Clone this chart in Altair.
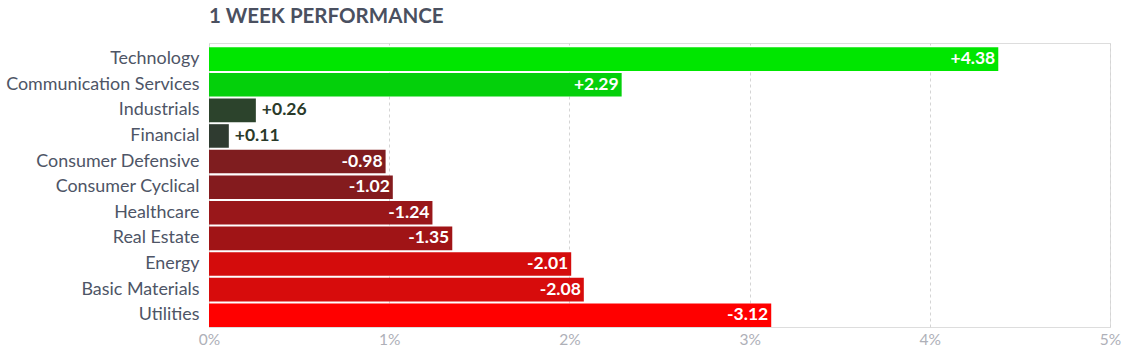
import altair as alt
import pandas as pd

sectors = ["Technology", "Communication Services", "Industrials", "Financial",
           "Consumer Defensive", "Consumer Cyclical", "Healthcare", "Real Estate",
           "Energy", "Basic Materials", "Utilities"]
values = [4.38, 2.29, 0.26, 0.11, -0.98, -1.02, -1.24, -1.35, -2.01, -2.08, -3.12]
colors = ["#00e600", "#04d00b", "#2c432c", "#2f3b30", "#7f1d1f", "#841b1e",
          "#99171a", "#a01416", "#d40c0c", "#d70c0c", "#ff0000"]
x_ticks = [0, 1, 2, 3, 4, 5]

df = pd.DataFrame({
    "sector": sectors,
    "value": values,
    "absval": [abs(v) for v in values],
    "label": [("+" if v > 0 else "") + f"{v:.2f}" for v in values],
    "color": colors,
    "inside": [abs(v) >= 0.5 for v in values],
})

FONT = "Lato"

y_enc = alt.Y("sector:N", sort=sectors, title=None,
              scale=alt.Scale(paddingInner=0.08, paddingOuter=0.085, align=1),
              axis=alt.Axis(labelFont=FONT, labelFontSize=17.9, labelColor="#4e5566",
                            labelPadding=10, labelLimit=0, ticks=False, domain=False,
                            grid=False))
x_enc = alt.X("absval:Q", title=None,
              scale=alt.Scale(domain=[0, 5], nice=False),
              axis=alt.Axis(values=x_ticks, labelExpr="datum.value + '%'",
                            labelFont=FONT, labelFontSize=15.5, labelColor="#aeb0b8",
                            labelPadding=5, labelFlush=False, ticks=False, domain=False,
                            grid=True, gridColor="#d4d4d4", gridDash=[3, 3]))

base = alt.Chart(df)
bars = base.mark_bar(cornerRadius=0).encode(
    y=y_enc, x=x_enc, color=alt.Color("color:N", scale=None))

inside = base.transform_filter("datum.inside").mark_text(
    align="right", baseline="middle", dx=-3, font=FONT, fontSize=17.5,
    fontWeight="bold", color="white").encode(
    y=alt.Y("sector:N", sort=sectors), x="absval:Q", text="label:N")

outside = base.transform_filter("!datum.inside").mark_text(
    align="left", baseline="middle", dx=6, font=FONT, fontSize=17.5,
    fontWeight="bold", color="#2a3a2a").encode(
    y=alt.Y("sector:N", sort=sectors), x="absval:Q", text="label:N")

chart = alt.layer(bars, inside, outside).properties(
    width=901, height=284,
    title=alt.TitleParams("1 WEEK PERFORMANCE", anchor="start", frame="group",
                          font=FONT, fontSize=20.5, fontWeight="bold",
                          color="#4a5060", offset=16),
    autosize=alt.AutoSizeParams(type="none"),
    padding={"left": 209, "top": 43, "right": 20, "bottom": 29},
).configure_view(stroke="#d4d4d4", strokeDash=[3, 3]).configure(background="white")

chart.save("out.html", embed_options={"renderer": "svg", "actions": False})
